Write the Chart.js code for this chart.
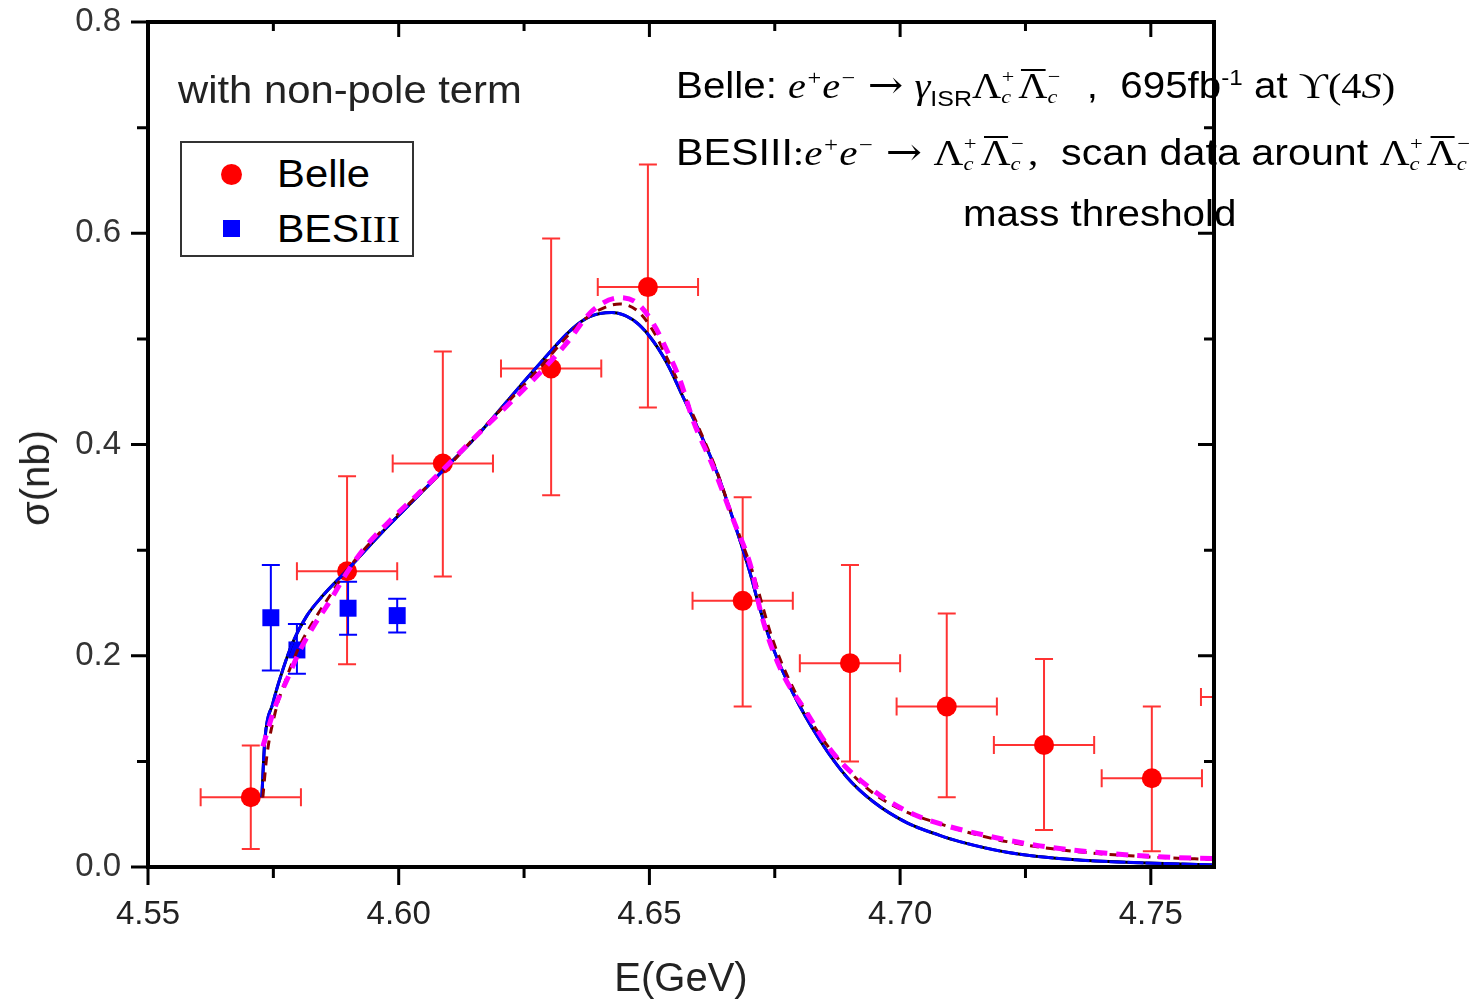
<!DOCTYPE html>
<html><head><meta charset="utf-8">
<script src="https://cdn.jsdelivr.net/npm/chart.js@4.4.1/dist/chart.umd.min.js"></script>
<style>
html,body{margin:0;padding:0;background:#fff;}
#wrap{position:relative;width:1484px;height:1004px;overflow:hidden;background:#fff;}
#c{position:absolute;left:0;top:0;}
.t{position:absolute;white-space:nowrap;font-family:"Liberation Sans",Arial,sans-serif;color:#000;line-height:1;transform-origin:0 50%;}
.m{font-family:"Liberation Serif","Times New Roman",serif;}
.i{font-style:italic;}
.ar{font-family:"DejaVu Serif","Liberation Serif",serif;font-size:1.05em;}
.ss{display:inline-block;position:relative;width:0.42em;height:0.8em;}
.ss .p{position:absolute;left:0.02em;top:-0.12em;font-size:0.55em;line-height:1;font-style:normal;}
.ss .c{position:absolute;left:0;bottom:-0.42em;font-size:0.55em;line-height:1;font-style:italic;}
.sup{font-size:0.6em;vertical-align:0.6em;}
.sub{font-size:0.62em;vertical-align:-0.35em;}
.ob{display:inline-block;position:relative;}
.ob::before{content:"";position:absolute;left:0.08em;right:0.05em;top:0.02em;border-top:2px solid #000;}
#legend{position:absolute;left:180px;top:141px;width:230px;height:112px;border:2px solid #333;background:#fff;}
#ytitle{position:absolute;left:35px;top:478px;transform:translate(-50%,-50%) rotate(-90deg);transform-origin:50% 50%;white-space:nowrap;font-family:"Liberation Sans",Arial,sans-serif;font-size:40px;color:#222;line-height:1;}
</style></head>
<body>
<div id="wrap">
<canvas id="c" width="1484" height="1004"></canvas>
<div id="ytitle">σ(nb)</div>
<div class="t" style="left:178px;top:71px;font-size:38px;color:#222;transform:scaleX(1.1);">with non-pole term</div>
<div id="legend">
  <div style="position:absolute;left:39px;top:21px;width:21px;height:21px;border-radius:50%;background:#ff0000;"></div>
  <div class="t" style="left:95px;top:12px;font-size:38px;transform:scaleX(1.1);">Belle</div>
  <div style="position:absolute;left:41px;top:77px;width:17px;height:17px;background:#0000ff;"></div>
  <div class="t" style="left:95px;top:67px;font-size:38px;transform:scaleX(1.08);">BES<span class="m">III</span></div>
</div>
<div class="t" style="left:676px;top:67px;font-size:36px;transform:scaleX(1.12);">Belle: <span class="m i">e<span class="sup">+</span>e<span class="sup">−</span></span> <span class="ar">→</span> <span class="m i">γ</span><span class="sub">ISR</span><span class="m">Λ<span class="ss"><span class="p">+</span><span class="c">c</span></span><span class="ob">Λ</span><span class="ss"><span class="p">−</span><span class="c">c</span></span></span>&nbsp; ,&nbsp; 695fb<span class="sup">-1</span> at <span class="m">ϒ(4<span class="i">S</span>)</span></div>
<div class="t" style="left:676px;top:134px;font-size:36px;transform:scaleX(1.145);">BESIII<span class="m">:</span><span class="m i">e<span class="sup">+</span>e<span class="sup">−</span></span> <span class="ar">→</span> <span class="m">Λ<span class="ss"><span class="p">+</span><span class="c">c</span></span><span class="ob">Λ</span><span class="ss"><span class="p">−</span><span class="c">c</span></span>,</span>&nbsp; scan data arount <span class="m">Λ<span class="ss"><span class="p">+</span><span class="c">c</span></span><span class="ob">Λ</span><span class="ss"><span class="p">−</span><span class="c">c</span></span></span></div>
<div class="t" style="left:963px;top:196px;font-size:36px;transform:scaleX(1.12);">mass threshold</div>
</div>
<script>
// ---------------- data ----------------
const belleE  = [4.5705, 4.5897, 4.6088, 4.6304, 4.6497, 4.6686, 4.6900, 4.7093, 4.7287, 4.7502, 4.7700];
const belleV  = [0.066, 0.280, 0.382, 0.472, 0.549, 0.252, 0.193, 0.152, 0.1155, 0.084, 0.161];
const belleHi = [0.115, 0.370, 0.488, 0.595, 0.665, 0.350, 0.286, 0.240, 0.197, 0.152, 0.250];
const belleLo = [0.017, 0.192, 0.275, 0.352, 0.435, 0.152, 0.100, 0.066, 0.035, 0.015, 0.070];
const belleDE = [0.010, 0.010, 0.010, 0.010, 0.010, 0.010, 0.010, 0.010, 0.010, 0.010, 0.010];

const besE  = [4.5745, 4.5797, 4.5899, 4.5997];
const besV  = [0.236, 0.2055, 0.245, 0.238];
const besHi = [0.286, 0.230, 0.270, 0.254];
const besLo = [0.186, 0.183, 0.220, 0.222];

const fitBlueE = [4.5727,4.5733,4.5749,4.5769,4.5789,4.5817,4.5847,4.5897,4.5969,4.6036,4.6102,4.6148,4.6282,4.6347,4.6381,4.6425,4.6467,4.6501,4.6535,4.6567,4.6601,4.6635,4.6667,4.6701,4.6720,4.6746,4.6786,4.6840,4.6894,4.6946,4.7013,4.7079,4.7119,4.7213,4.7344,4.7478,4.7626];
const fitBlueV = [0.066,0.120,0.155,0.187,0.213,0.238,0.256,0.281,0.318,0.350,0.382,0.404,0.477,0.510,0.521,0.525,0.518,0.502,0.477,0.445,0.411,0.373,0.329,0.278,0.245,0.208,0.165,0.120,0.085,0.062,0.042,0.030,0.024,0.014,0.007,0.004,0.002];

const fitRedE = [4.5729,4.5737,4.5753,4.5777,4.5803,4.5829,4.5863,4.5897,4.5969,4.6036,4.6102,4.6148,4.6282,4.6347,4.6387,4.6441,4.6475,4.6507,4.6535,4.6567,4.6601,4.6635,4.6667,4.6706,4.6746,4.6786,4.6840,4.6894,4.6946,4.7013,4.7079,4.7119,4.7213,4.7344,4.7478,4.7626];
const fitRedV = [0.066,0.105,0.145,0.180,0.210,0.232,0.257,0.281,0.320,0.351,0.381,0.405,0.473,0.508,0.524,0.533,0.527,0.508,0.482,0.449,0.413,0.374,0.330,0.279,0.215,0.170,0.125,0.093,0.070,0.052,0.041,0.035,0.024,0.015,0.010,0.007];

const fitMagE = [4.5729,4.5753,4.5777,4.5803,4.5829,4.5863,4.5897,4.5937,4.5983,4.6036,4.6088,4.6148,4.6282,4.6335,4.6387,4.6441,4.6475,4.6507,4.6535,4.6561,4.6587,4.6627,4.6667,4.6706,4.6720,4.6760,4.6814,4.6866,4.6934,4.7013,4.7079,4.7179,4.7279,4.7412,4.7544,4.7626];
const fitMagV = [0.114,0.151,0.177,0.205,0.227,0.252,0.279,0.305,0.328,0.352,0.376,0.405,0.468,0.496,0.527,0.539,0.534,0.515,0.489,0.461,0.423,0.379,0.329,0.278,0.245,0.189,0.146,0.108,0.077,0.053,0.041,0.029,0.020,0.013,0.009,0.008];

const xTickVals = [4.55, 4.575, 4.60, 4.625, 4.65, 4.675, 4.70, 4.725, 4.75];
const xTickLabels = ['4.55', '', '4.60', '', '4.65', '', '4.70', '', '4.75'];
const yTickVals = [0.0, 0.1, 0.2, 0.3, 0.4, 0.5, 0.6, 0.7, 0.8];
const yTickLabels = ['0.0', '', '0.2', '', '0.4', '', '0.6', '', '0.8'];

const xMin = 4.55, xMax = 4.7626, yMin = 0, yMax = 0.8;

// ---------------- build ----------------
const pts = (xs, ys) => xs.map((x, i) => ({x: x, y: ys[i]}));

const errorBars = {
  id: 'errorBars',
  beforeDatasetsDraw(chart) {
    const {ctx, chartArea: a, scales: {x, y}} = chart;
    ctx.save();
    ctx.beginPath();
    ctx.rect(a.left, a.top, a.right - a.left, a.bottom - a.top);
    ctx.clip();
    ctx.lineWidth = 2;
    const cap = 9;
    ctx.strokeStyle = '#ff3333';
    belleE.forEach((e, i) => {
      const px = x.getPixelForValue(e), py = y.getPixelForValue(belleV[i]);
      const yh = y.getPixelForValue(belleHi[i]), yl = y.getPixelForValue(belleLo[i]);
      const xl = x.getPixelForValue(e - belleDE[i]), xh = x.getPixelForValue(e + belleDE[i]);
      ctx.beginPath();
      ctx.moveTo(px, yh); ctx.lineTo(px, yl);
      ctx.moveTo(px - cap, yh); ctx.lineTo(px + cap, yh);
      ctx.moveTo(px - cap, yl); ctx.lineTo(px + cap, yl);
      ctx.moveTo(xl, py); ctx.lineTo(xh, py);
      ctx.moveTo(xl, py - cap); ctx.lineTo(xl, py + cap);
      ctx.moveTo(xh, py - cap); ctx.lineTo(xh, py + cap);
      ctx.stroke();
    });
    ctx.strokeStyle = '#0000ff';
    besE.forEach((e, i) => {
      const px = x.getPixelForValue(e);
      const yh = y.getPixelForValue(besHi[i]), yl = y.getPixelForValue(besLo[i]);
      ctx.beginPath();
      ctx.moveTo(px, yh); ctx.lineTo(px, yl);
      ctx.moveTo(px - cap, yh); ctx.lineTo(px + cap, yh);
      ctx.moveTo(px - cap, yl); ctx.lineTo(px + cap, yl);
      ctx.stroke();
    });
    ctx.restore();
  }
};

const frame = {
  id: 'frame',
  afterDraw(chart) {
    const {ctx, chartArea: a, scales: {x, y}} = chart;
    ctx.save();
    ctx.strokeStyle = '#000';
    ctx.lineCap = 'butt';
    ctx.lineWidth = 3;
    xTickVals.forEach((v, i) => {
      const px = x.getPixelForValue(v);
      const major = i % 2 === 0;
      ctx.beginPath();
      ctx.moveTo(px, a.bottom); ctx.lineTo(px, a.bottom + (major ? 18 : 11));
      ctx.moveTo(px, a.top); ctx.lineTo(px, a.top + (major ? 15 : 9));
      ctx.stroke();
    });
    yTickVals.forEach((v, i) => {
      const py = y.getPixelForValue(v);
      const major = i % 2 === 0;
      ctx.beginPath();
      ctx.moveTo(a.left, py); ctx.lineTo(a.left - (major ? 17 : 11), py);
      ctx.moveTo(a.right, py); ctx.lineTo(a.right - (major ? 16 : 10), py);
      ctx.stroke();
    });
    ctx.lineWidth = 4;
    ctx.beginPath();
    ctx.rect(a.left, a.top, a.right - a.left, a.bottom - a.top);
    ctx.stroke();
    ctx.restore();
  }
};

const curve = (label, xs, ys, color, width, dash, order) => ({
  label, data: pts(xs, ys), showLine: true, pointRadius: 0,
  borderColor: color, borderWidth: width, borderDash: dash,
  cubicInterpolationMode: 'monotone', order
});

new Chart(document.getElementById('c'), {
  type: 'scatter',
  data: {
    datasets: [
      {label: 'Belle', data: pts(belleE, belleV), pointStyle: 'circle', pointRadius: 10,
       backgroundColor: '#ff0000', borderColor: '#ff0000', borderWidth: 0, order: 10},
      {label: 'BESIII', data: pts(besE, besV), pointStyle: 'rect', pointRadius: 12,
       backgroundColor: '#0000ff', borderColor: '#0000ff', borderWidth: 0, order: 9},
      curve('fit black', fitBlueE, fitBlueV, '#000000', 3, [], 5),
      curve('fit blue', fitBlueE, fitBlueV, '#0000ff', 3, [16, 2], 4),
      curve('fit dark red', fitRedE, fitRedV, '#8b0000', 3, [9, 7], 3),
      curve('fit magenta', fitMagE, fitMagV, '#ff00ff', 5, [12, 9], 2)
    ]
  },
  options: {
    responsive: false,
    animation: false,
    events: [],
    layout: {padding: {top: 22, right: 270, left: 0, bottom: 0}},
    plugins: {legend: {display: false}, tooltip: {enabled: false}},
    scales: {
      x: {
        type: 'linear', min: xMin, max: xMax,
        grid: {display: false, drawTicks: false},
        border: {display: false},
        afterFit: s => { s.height = 137; s.paddingLeft = 0; s.paddingRight = 0; },
        afterBuildTicks: s => { s.ticks = xTickVals.map(v => ({value: v})); },
        ticks: {
          autoSkip: false, maxRotation: 0, padding: 28, color: '#222',
          font: {family: '"Liberation Sans", Arial, sans-serif', size: 33},
          callback: (v, i) => xTickLabels[i]
        },
        title: {display: true, text: 'E(GeV)', color: '#222', padding: {top: 0, bottom: 0},
          font: {family: '"Liberation Sans", Arial, sans-serif', size: 40}}
      },
      y: {
        type: 'linear', min: yMin, max: yMax,
        grid: {display: false, drawTicks: false},
        border: {display: false},
        afterFit: s => { s.width = 148; s.paddingTop = 0; s.paddingBottom = 0; },
        afterBuildTicks: s => { s.ticks = yTickVals.map(v => ({value: v})); },
        ticks: {
          autoSkip: false, padding: 27, color: '#333',
          font: {family: '"Liberation Sans", Arial, sans-serif', size: 33},
          callback: (v, i) => yTickLabels[i]
        }
      }
    }
  },
  plugins: [errorBars, frame]
});
</script>
</body></html>
